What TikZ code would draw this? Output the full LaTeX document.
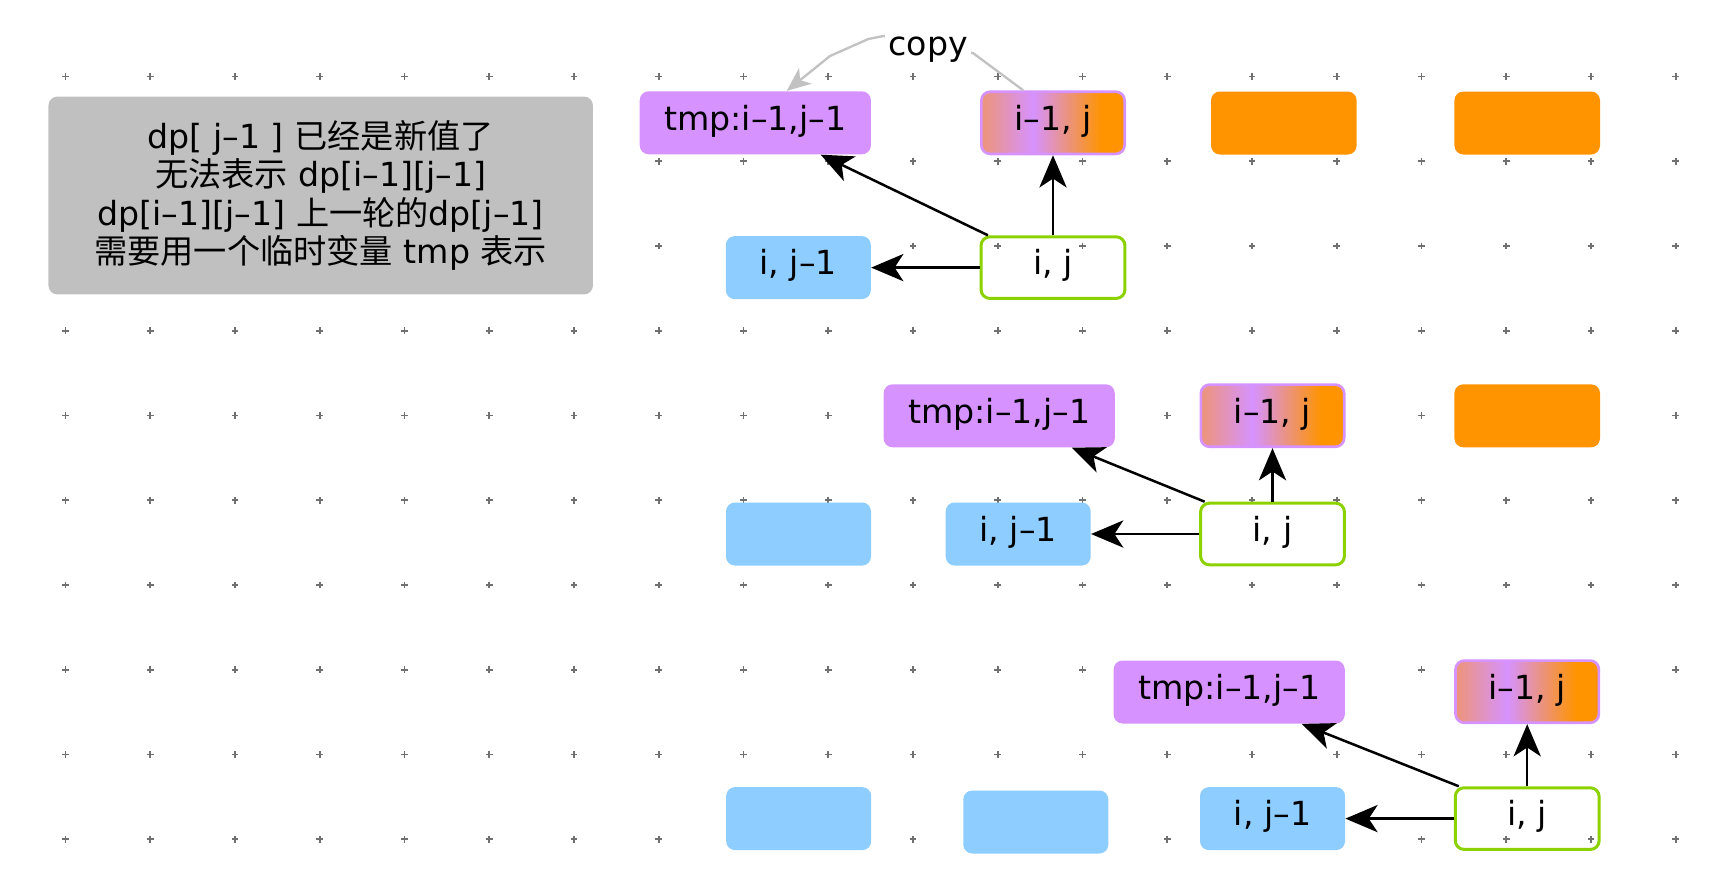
\documentclass[tikz,border=0pt]{standalone}
\usepackage{fontspec}
\setmainfont{DejaVu Sans}
\newfontfamily\zhfont{Noto Sans CJK SC}
\newcommand{\zh}[1]{{\zhfont #1}}
\usetikzlibrary{arrows.meta}
\definecolor{tmpviolet}{RGB}{214,146,255}
\definecolor{boxorange}{RGB}{255,148,0}
\definecolor{skyblue}{RGB}{142,205,255}
\definecolor{limegreen}{RGB}{140,210,0}
\definecolor{notegray}{RGB}{192,192,192}
\definecolor{salmonpink}{RGB}{236,148,128}
\definecolor{copygray}{RGB}{194,194,194}
\definecolor{dotgray}{RGB}{112,112,112}
\pgfdeclarehorizontalshading{rowshade}{100bp}{color(0bp)=(salmonpink); color(26bp)=(salmonpink); color(43bp)=(tmpviolet); color(67bp)=(boxorange); color(100bp)=(boxorange)}
\tikzset{
  cell/.style={rounded corners=1.6mm, minimum height=11.34mm, inner sep=0pt, text height=1em, text depth=0.25em, font=\fontsize{17}{20}\selectfont},
  tmpcell/.style={cell, fill=tmpviolet, minimum width=41.6mm},
  oldcell/.style={cell, shading=rowshade, draw=tmpviolet, line width=0.48mm, minimum width=25.8mm, minimum height=11.2mm},
  newcell/.style={cell, fill=boxorange, minimum width=26.2mm},
  leftcell/.style={cell, fill=skyblue, minimum width=26.1mm},
  curcell/.style={cell, draw=limegreen, line width=0.54mm, minimum width=25.9mm, minimum height=11.1mm},
  notebox/.style={rounded corners=1.6mm, fill=notegray, minimum width=98mm, minimum height=35.6mm, align=center, font=\fontsize{17}{19.6}\selectfont},
  dep/.style={-{Stealth[length=5.8mm,width=4.9mm,inset=1.6mm]}, line width=0.45mm},
  copyline/.style={-{Stealth[length=4.3mm,width=3.6mm,inset=1.2mm,fill=copygray]}, draw=copygray, line width=0.42mm},
  copylabel/.style={fill=white, inner sep=0.6mm, font=\fontsize{17}{20}\selectfont},
  gridmark/.style={draw=dotgray, line width=0.34mm}
}

\begin{document}
\begin{tikzpicture}[x=0.18mm, y=-0.18mm]
  \useasboundingbox (0,0) rectangle (1734,868);

  % Background dot grid
  \foreach \c in {0,...,19}
    \foreach \r in {0,...,9}
      \draw[gridmark] ({65.5+84.75*\c},{76.5+84.75*\r}) +(-3.4,0) -- +(3.4,0) +(0,-3.4) -- +(0,3.4);

  % Note on the left
  \node[notebox] (note) at (320.7,195.5) {dp[ j–1 ] \zh{已经是新值了}\\ \zh{无法表示} dp[i–1][j–1]\\ dp[i–1][j–1] \zh{上一轮的}dp[j–1]\\ \zh{需要用一个临时变量} tmp \zh{表示}};

  % First step
  \node[tmpcell] (tmpA) at (755.3,122.8) {tmp:i–1,j–1};
  \node[oldcell] (gradA) at (1053,122.8) {i–1, j};
  \node[newcell] (newA1) at (1283.8,123) {};
  \node[newcell] (newA2) at (1527.2,123) {};
  \node[leftcell] (bluA) at (798.3,267.6) {i, j–1};
  \node[curcell] (ijA) at (1053,267.6) {i, j};

  \draw[dep] (ijA.north) -- (gradA.south);
  \draw[dep] (ijA.west) -- (bluA.east);
  \draw[dep] ([xshift=1.5mm]ijA.north west) -- ([xshift=-9.1mm]tmpA.south east);

  % Copy of the old value
  \draw[copyline] ([xshift=-5.35mm]gradA.north) -- (973.3,53.3) -- (928,42) -- (883.3,36) -- (868.3,39) -- (830,56) -- ([xshift=5.65mm]tmpA.north);
  \node[copylabel] (copy) at (928.3,50) {copy};

  % Second step
  \node[tmpcell] (tmpB) at (999.2,415.8) {tmp:i–1,j–1};
  \node[oldcell] (gradB) at (1272.5,415.7) {i–1, j};
  \node[newcell] (newB) at (1527.2,415.8) {};
  \node[leftcell] (bluB0) at (798.5,534) {};
  \node[leftcell] (bluB) at (1018.2,534) {i, j–1};
  \node[curcell] (ijB) at (1272.5,534) {i, j};

  \draw[dep] (ijB.north) -- (gradB.south);
  \draw[dep] (ijB.west) -- (bluB.east);
  \draw[dep] ([xshift=1mm]ijB.north west) -- ([xshift=-7.8mm]tmpB.south east);

  % Third step
  \node[tmpcell] (tmpC) at (1229.2,692) {tmp:i–1,j–1};
  \node[oldcell] (gradC) at (1527.2,691.7) {i–1, j};
  \node[leftcell] (bluC0) at (798.7,818.6) {};
  \node[leftcell] (bluC1) at (1035.8,822) {};
  \node[leftcell] (bluC) at (1272.5,818.6) {i, j–1};
  \node[curcell] (ijC) at (1527.2,818.6) {i, j};

  \draw[dep] (ijC.north) -- (gradC.south);
  \draw[dep] (ijC.west) -- (bluC.east);
  \draw[dep] ([xshift=0.9mm]ijC.north west) -- ([xshift=-7.8mm]tmpC.south east);
\end{tikzpicture}
\end{document}
